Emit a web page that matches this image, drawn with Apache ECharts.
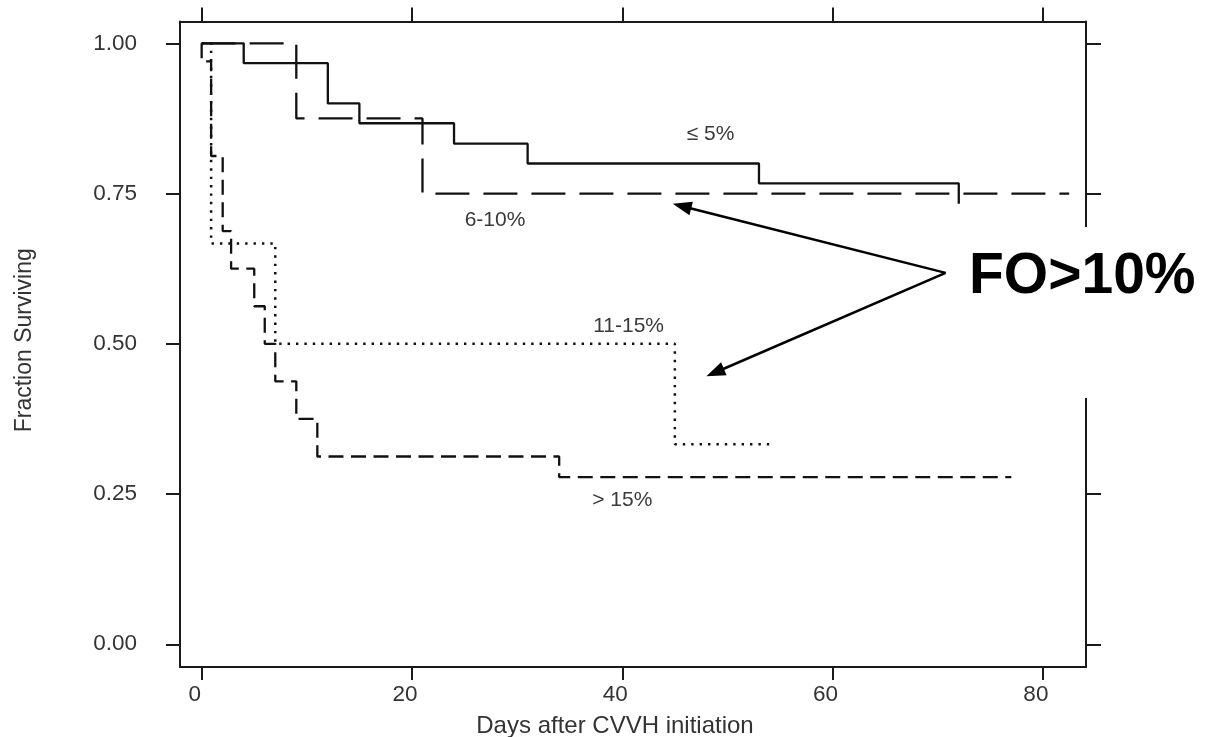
<!DOCTYPE html>
<html><head><meta charset="utf-8">
<script src="https://cdn.jsdelivr.net/npm/echarts@6/dist/echarts.min.js"></script>
<style>html,body{margin:0;padding:0;background:#fff}#c{width:1214px;height:737px}</style>
</head><body><div id="c"></div>
<script>
// ---- data ----
const xTickValues = [0, 20, 40, 60, 80];
const yTickValues = [0, 0.25, 0.5, 0.75, 1];
const le5Days = [0, 4, 12, 15, 24, 31, 53, 72];
const le5Surv = [1, 0.967, 0.9, 0.867, 0.833, 0.8, 0.767, 0.733];
const fo6to10Days = [0, 9, 21, 82.5];
const fo6to10Surv = [1, 0.875, 0.75, 0.75];
const fo11to15Days = [0, 0.9, 7, 45, 54.5];
const fo11to15Surv = [1, 0.667, 0.5, 0.333, 0.333];
const gt15Days = [0, 0, 0.9, 2, 2.8, 5, 6, 7, 9, 11, 34, 77];
const gt15Surv = [1, 0.97, 0.8125, 0.6875, 0.625, 0.5625, 0.5, 0.4375, 0.375, 0.3125, 0.278, 0.278];
const curveLabels = ['≤ 5%', '6-10%', '11-15%', '> 15%'];
const xTitle = 'Days after CVVH initiation';
const yTitle = 'Fraction Surviving';
const calloutText = 'FO>10%';

// ---- annotation anchors (data coordinates) ----
const labelAnchors = [[48.4, 0.849], [27.9, 0.706], [40.6, 0.530], [40.0, 0.239]];
const arrowTail = [70.75, 0.618];
const arrowTips = [[44.8, 0.733], [48.0, 0.446]];

const FONT = '"Liberation Sans", Arial, Helvetica, sans-serif';
const INK = '#111';
const chart = echarts.init(document.getElementById('c'), null, {renderer: 'canvas'});

function pts(d, s) { return d.map((v, i) => [v, s[i]]); }
function km(name, d, s, type, width) {
  return {
    name, type: 'line', step: 'end', data: pts(d, s),
    showSymbol: false, symbol: 'none', silent: true, animation: false, clip: false,
    lineStyle: {color: INK, width, type, cap: 'butt'}
  };
}
const axisLine = {show: true, onZero: false, lineStyle: {color: '#1a1a1a', width: 2}};
const xMin = -2.06, xMax = 84.1, yMin = -0.0378, yMax = 1.0363;

chart.setOption({
  animation: false,
  backgroundColor: '#fff',
  grid: {left: 180, top: 21.5, right: 128, bottom: 70, containLabel: false, outerBoundsMode: 'none'},
  xAxis: [
    {type: 'value', position: 'bottom', min: xMin, max: xMax,
     axisLine, splitLine: {show: false},
     axisTick: {show: true, customValues: xTickValues, length: 13, lineStyle: {color: '#1a1a1a', width: 2}},
     axisLabel: {customValues: xTickValues, fontSize: 22.5, color: '#333', margin: 16, padding: [0, 14, 0, 0], fontFamily: FONT},
     name: xTitle, nameLocation: 'middle', nameGap: 47,
     nameTextStyle: {fontSize: 24, color: '#333', fontFamily: FONT, padding: [0, 36, 0, 0]}},
    {type: 'value', position: 'top', min: xMin, max: xMax,
     axisLine, splitLine: {show: false},
     axisTick: {show: true, customValues: xTickValues, length: 14, lineStyle: {color: '#1a1a1a', width: 2}},
     axisLabel: {show: false}}
  ],
  yAxis: [
    {type: 'value', position: 'left', min: yMin, max: yMax,
     axisLine, splitLine: {show: false},
     axisTick: {show: true, customValues: yTickValues, length: 14, lineStyle: {color: '#1a1a1a', width: 2}},
     axisLabel: {customValues: yTickValues, fontSize: 22.5, color: '#333', margin: 43, fontFamily: FONT,
                 formatter: v => v.toFixed(2)},
     name: yTitle, nameLocation: 'middle', nameGap: 144,
     nameTextStyle: {fontSize: 23, color: '#333', fontFamily: FONT, padding: [0, 0, 0, 8]}},
    {type: 'value', position: 'right', min: yMin, max: yMax,
     axisLine, splitLine: {show: false},
     axisTick: {show: true, customValues: yTickValues, length: 15, lineStyle: {color: '#1a1a1a', width: 2}},
     axisLabel: {show: false}}
  ],
  series: [
    km(curveLabels[1], fo6to10Days, fo6to10Surv, [34, 14], 2.3),
    km(curveLabels[2], fo11to15Days, fo11to15Surv, [2.4, 6], 2.5),
    km(curveLabels[3], gt15Days, gt15Surv, [15, 7.5], 2.3),
    km(curveLabels[0], le5Days, le5Surv, 'solid', 2.3)
  ]
});

function px(p) { return chart.convertToPixel({xAxisIndex: 0, yAxisIndex: 0}, p); }
const g = [];
// white patch behind the callout (interrupts the right frame)
g.push({type: 'rect', shape: {x: 1066, y: 227, width: 148, height: 171}, style: {fill: '#fff'}, z: 100});
labelAnchors.forEach((a, i) => {
  const p = px(a);
  g.push({type: 'text', x: p[0], y: p[1], z: 101,
    style: {text: curveLabels[i], fontSize: 21, fontFamily: FONT, fill: '#3a3a3a', align: 'center', verticalAlign: 'middle'}});
});
const tail = px(arrowTail);
arrowTips.forEach(t => {
  const tip = px(t);
  const dx = tip[0] - tail[0], dy = tip[1] - tail[1];
  const len = Math.hypot(dx, dy), ux = dx / len, uy = dy / len;
  const L = 19, W = 7;
  const bx = tip[0] - ux * L, by = tip[1] - uy * L;
  g.push({type: 'line', z: 102, shape: {x1: tail[0], y1: tail[1], x2: bx + ux * 2, y2: by + uy * 2},
    style: {stroke: '#000', lineWidth: 2.5}});
  g.push({type: 'polygon', z: 102, shape: {points: [tip, [bx - uy * W, by + ux * W], [bx + uy * W, by - ux * W]]},
    style: {fill: '#000'}});
});
g.push({type: 'text', x: 969, y: 277, z: 103,
  style: {text: calloutText, font: 'bold 57px ' + FONT, fill: '#000', align: 'left', verticalAlign: 'middle'}});
chart.setOption({graphic: g});
</script>
</body></html>
